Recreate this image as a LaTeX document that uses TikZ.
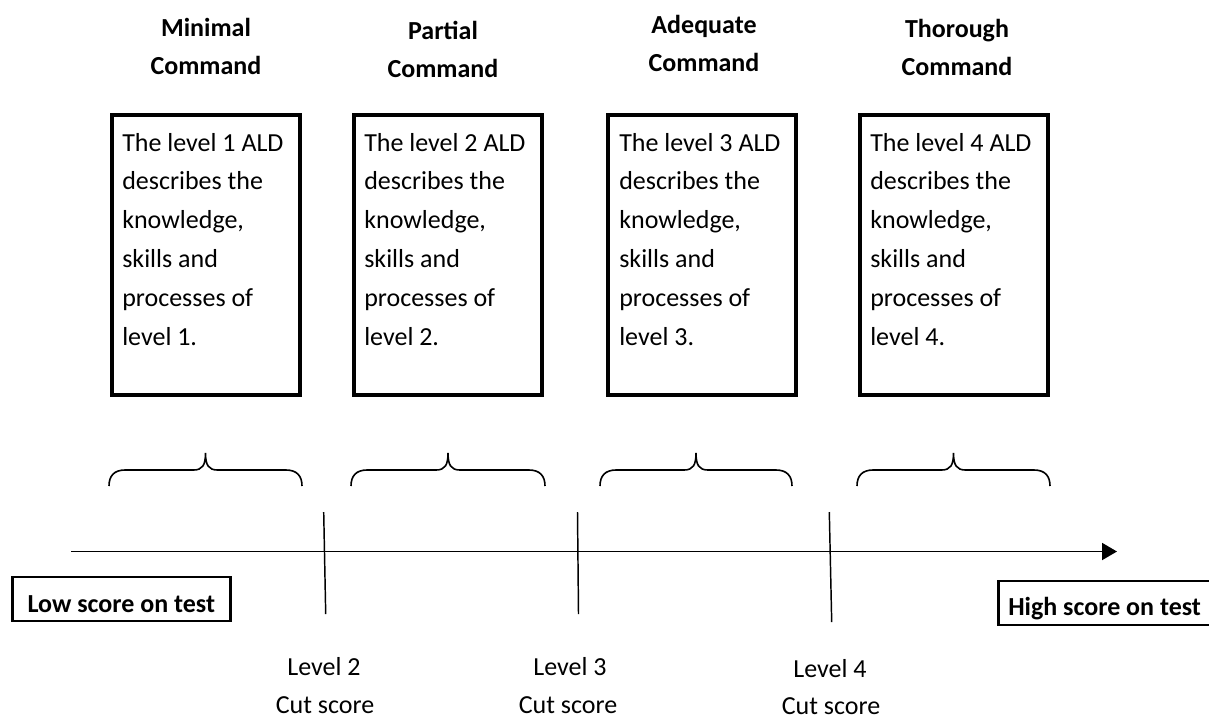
\documentclass[tikz,border=0pt]{standalone}
\usepackage{fontspec}
\setmainfont{Carlito}
\usetikzlibrary{arrows.meta}
\begin{document}
\begin{tikzpicture}[x=0.75pt,y=-0.75pt,
  title/.style={font=\fontsize{19.5}{28.9}\selectfont\bfseries, anchor=base, inner sep=0pt},
  aldbox/.style={draw, line width=3pt, minimum width=141pt, minimum height=210pt, inner sep=0pt},
  aldtext/.style={anchor=base west, inner sep=0pt, font=\fontsize{19.5}{29.1}\selectfont},
  cutline/.style={line width=1.1pt},
  axisline/.style={line width=1.4pt, -{Triangle[length=11.25pt, width=12.75pt]}},
  bracepath/.style={line width=1.2pt},
  scorebox/.style={draw, line width=1.9pt, font=\fontsize{19.5}{24}\selectfont\bfseries, minimum height=33pt, text depth=0pt},
  cutlabel/.style={font=\fontsize{19.5}{29.1}\selectfont, anchor=base, inner sep=0pt}
]
\path[use as bounding box, clip] (0,0) rectangle (1209,719);

% titles
\node[title] (t1) at (206,36) {\begin{tabular}[t]{@{}c@{}}Minimal\\Command\end{tabular}};
\node[title] (t2) at (443,39) {\begin{tabular}[t]{@{}c@{}}Partial\\Command\end{tabular}};
\node[title] (t3) at (704,33) {\begin{tabular}[t]{@{}c@{}}Adequate\\Command\end{tabular}};
\node[title] (t4) at (957,37) {\begin{tabular}[t]{@{}c@{}}Thorough\\Command\end{tabular}};

% boxes
\node[aldbox] (b1) at (206,255.3) {};
\node[aldbox] (b2) at (448,255.3) {};
\node[aldbox] (b3) at (702,255.3) {};
\node[aldbox] (b4) at (953.5,255.3) {};

\node[aldtext] (d1) at (122,151) {\parbox[t]{130pt}{\raggedright The level 1 ALD\\describes the\\knowledge,\\skills and\\processes of\\level 1.}};
\node[aldtext] (d2) at (364,151) {\parbox[t]{130pt}{\raggedright The level 2 ALD\\describes the\\knowledge,\\skills and\\processes of\\level 2.}};
\node[aldtext] (d3) at (619,151) {\parbox[t]{130pt}{\raggedright The level 3 ALD\\describes the\\knowledge,\\skills and\\processes of\\level 3.}};
\node[aldtext] (d4) at (870,151) {\parbox[t]{130pt}{\raggedright The level 4 ALD\\describes the\\knowledge,\\skills and\\processes of\\level 4.}};

% braces
\foreach \l/\r in {109/302, 351/545, 600/792, 857/1050}{
  \pgfmathsetmacro{\m}{(\l+\r)/2}
  \draw[bracepath] (\l,486) .. controls (\l,476) and ({\l+5},470) .. ({\l+16},470)
    -- ({\m-12},470) .. controls ({\m-3},470) and (\m,465) .. (\m,453)
    .. controls (\m,465) and ({\m+3},470) .. ({\m+12},470)
    -- ({\r-16},470) .. controls ({\r-5},470) and (\r,476) .. (\r,486);
}

% axis
\coordinate (axL) at (71,551.5);
\coordinate (axR) at (1117,551.5);
\draw[axisline] (axL) -- (axR);

% cut lines
\coordinate (c2t) at (323.7,512); \coordinate (c2b) at (325.7,614);
\coordinate (c3t) at (577.5,512); \coordinate (c3b) at (578.5,614);
\coordinate (c4t) at (829.3,512); \coordinate (c4b) at (831.7,622);
\draw[cutline] (c2t) -- (c2b);
\draw[cutline] (c3t) -- (c3b);
\draw[cutline] (c4t) -- (c4b);

% score boxes
\node[scorebox, text height=19.5pt, minimum width=163.5pt, anchor=west] (low) at (11,599) {Low score on test};
\node[scorebox, text height=18pt, inner xsep=7.5pt, anchor=west] (high) at (997,603) {High score on test};

% cut labels
\node[cutlabel] (l2) at (324,675) {Level 2};
\node[cutlabel] (s2) at (325,713) {Cut score};
\node[cutlabel] (l3) at (570,675) {Level 3};
\node[cutlabel] (s3) at (568,713) {Cut score};
\node[cutlabel] (l4) at (830,677.5) {Level 4};
\node[cutlabel] (s4) at (831,714.5) {Cut score};
\end{tikzpicture}
\end{document}
